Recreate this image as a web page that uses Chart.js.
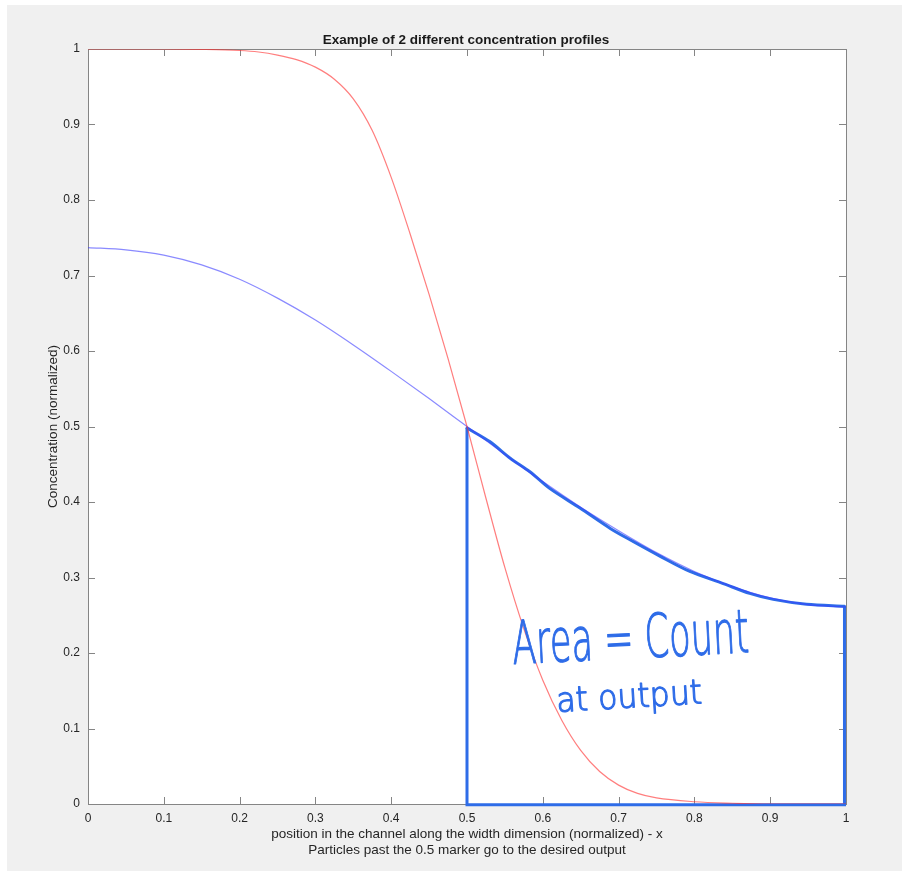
<!DOCTYPE html>
<html>
<head>
<meta charset="utf-8">
<script src="https://cdn.jsdelivr.net/npm/chart.js@4.4.1/dist/chart.umd.min.js"></script>
<style>
  html, body { margin: 0; padding: 0; background: #fff; }
  #fig { position: absolute; left: 7px; top: 5px; width: 895px; height: 866px; background: #f0f0f0; }
  #wrap { position: absolute; left: 0; top: 0; width: 902px; height: 871px; }
</style>
</head>
<body>
<div id="fig"></div>
<div id="wrap"><canvas id="lineChart" width="902" height="871"></canvas></div>
<script>
// tick positions (both axes)
var tickValues = [0, 0.1, 0.2, 0.3, 0.4, 0.5, 0.6, 0.7, 0.8, 0.9, 1];

// red profile (steep)
var redX = [0, 0.05, 0.1, 0.15, 0.2, 0.225, 0.25, 0.275, 0.3, 0.325, 0.35, 0.375, 0.4, 0.425, 0.45, 0.475, 0.5,
            0.525, 0.55, 0.575, 0.6, 0.625, 0.65, 0.675, 0.7, 0.725, 0.75, 0.8, 0.85, 0.9, 0.95, 1];
var redY = [1, 1, 1, 0.9995, 0.998, 0.996, 0.992, 0.986, 0.976, 0.960, 0.934, 0.892, 0.830, 0.755, 0.675, 0.590, 0.5,
            0.405, 0.313, 0.232, 0.164, 0.111, 0.071, 0.043, 0.025, 0.014, 0.008, 0.003, 0.001, 0, 0, 0];

// blue profile (shallow)
var blueX = [0, 0.05, 0.1, 0.15, 0.2, 0.25, 0.3, 0.35, 0.4, 0.45, 0.5,
             0.55, 0.6, 0.65, 0.7, 0.75, 0.8, 0.85, 0.9, 0.95, 1];
var blueY = [0.737, 0.734, 0.727, 0.714, 0.695, 0.670, 0.641, 0.608, 0.573, 0.537, 0.5,
             0.463, 0.427, 0.393, 0.362, 0.333, 0.308, 0.288, 0.273, 0.264, 0.261];

// hand drawn pen trace over the blue curve
var penX = [0.5, 0.53, 0.557, 0.583, 0.609, 0.649, 0.689, 0.715, 0.755, 0.794, 0.838, 0.873, 0.904, 0.948, 0.998];
var penY = [0.498, 0.480, 0.458, 0.440, 0.418, 0.392, 0.365, 0.350, 0.328, 0.308, 0.292, 0.279, 0.271, 0.2645, 0.262];

// hand drawn box edges
var boxX = [0.5, 0.5, 0.998, 0.998];
var boxY = [0.498, -0.001, -0.001, 0.262];

function pts(xs, ys) {
    return xs.map(function (x, i) { return { x: x, y: ys[i] }; });
}

var FONT = '"Liberation Sans", Arial, Helvetica, sans-serif';
var PEN = 'rgb(46, 108, 232)';

function penText(c, text, x, y, size, width, angle) {
    c.save();
    c.fillStyle = PEN;
    c.strokeStyle = PEN;
    c.lineWidth = 1.2;
    c.lineJoin = 'round';
    c.textAlign = 'left';
    c.textBaseline = 'alphabetic';
    c.font = '200 ' + size + 'px "DejaVu Sans", sans-serif';
    var w = c.measureText(text).width;
    c.translate(x, y);
    c.rotate(angle);
    c.scale(width / w, 1);
    c.fillText(text, 0, 0);
    c.strokeText(text, 0, 0);
    c.restore();
}

var matlabAxes = {
    id: 'matlabAxes',
    beforeDraw: function (chart) {
        var c = chart.ctx, a = chart.chartArea;
        c.save();
        c.fillStyle = '#ffffff';
        c.fillRect(a.left, a.top, a.right - a.left, a.bottom - a.top);
        c.restore();
    },
    beforeDatasetsDraw: function (chart) {
        var c = chart.ctx, a = chart.chartArea;
        var xs = chart.scales.x, ys = chart.scales.y;
        var tl = 7;
        c.save();
        c.strokeStyle = '#858585';
        c.lineWidth = 1;
        c.beginPath();
        tickValues.forEach(function (v) {
            var px = Math.round(xs.getPixelForValue(v)) + 0.5;
            c.moveTo(px, a.bottom); c.lineTo(px, a.bottom - tl);
            c.moveTo(px, a.top); c.lineTo(px, a.top + tl);
            var py = Math.round(ys.getPixelForValue(v)) + 0.5;
            c.moveTo(a.left, py); c.lineTo(a.left + tl, py);
            c.moveTo(a.right, py); c.lineTo(a.right - tl, py);
        });
        c.stroke();
        c.strokeRect(Math.round(a.left) + 0.5, Math.round(a.top) + 0.5,
                     Math.round(a.right - a.left), Math.round(a.bottom - a.top));
        c.restore();
    },
    afterDraw: function (chart) {
        var c = chart.ctx, a = chart.chartArea;
        var cx = (a.left + a.right) / 2;
        c.save();
        c.fillStyle = '#1a1a1a';
        c.textAlign = 'center';
        c.textBaseline = 'middle';
        c.font = 'bold 13.5px ' + FONT;
        c.fillText('Example of 2 different concentration profiles', cx - 1, 40);
        c.fillStyle = '#262626';
        c.font = '13.5px ' + FONT;
        c.fillText('position in the channel along the width dimension (normalized) - x', cx, 834);
        c.fillText('Particles past the 0.5 marker go to the desired output', cx, 850);
        c.translate(53, (a.top + a.bottom) / 2);
        c.rotate(-Math.PI / 2);
        c.fillText('Concentration (normalized)', 0, 0);
        c.restore();

        // handwritten note
        penText(c, 'Area = Count', 513, 664, 60, 237, -0.05);
        penText(c, 'at output', 557, 712, 34, 146, -0.06);
    }
};

var ctx = document.getElementById('lineChart');
var lineChart = new Chart(ctx, {
    type: 'line',
    data: {
        datasets: [
            {
                label: 'red',
                data: pts(redX, redY),
                borderColor: 'rgba(255, 40, 40, 0.6)',
                borderWidth: 1.2,
                pointRadius: 0,
                cubicInterpolationMode: 'monotone',
                fill: false
            },
            {
                label: 'blue',
                data: pts(blueX, blueY),
                borderColor: 'rgba(60, 60, 255, 0.6)',
                borderWidth: 1.2,
                pointRadius: 0,
                cubicInterpolationMode: 'monotone',
                fill: false
            },
            {
                label: 'pen',
                data: pts(penX, penY),
                borderColor: PEN,
                borderWidth: 3,
                pointRadius: 0,
                tension: 0.3,
                borderCapStyle: 'round',
                fill: false,
                clip: 6
            },
            {
                label: 'box',
                data: pts(boxX, boxY),
                borderColor: PEN,
                borderWidth: 3,
                pointRadius: 0,
                tension: 0,
                borderJoinStyle: 'miter',
                fill: false,
                clip: 6
            }
        ]
    },
    options: {
        responsive: false,
        animation: false,
        layout: { padding: { left: 0, right: 56, top: 49, bottom: 0 } },
        plugins: {
            legend: { display: false },
            tooltip: { enabled: false }
        },
        scales: {
            x: {
                type: 'linear',
                min: 0,
                max: 1,
                grid: { display: false, drawTicks: false },
                border: { display: false },
                ticks: {
                    padding: 7,
                    color: '#262626',
                    font: { size: 12, family: FONT },
                    maxRotation: 0,
                    autoSkip: false,
                    callback: function (v) { return String(v); }
                },
                afterBuildTicks: function (s) { s.ticks = tickValues.map(function (v) { return { value: v }; }); },
                afterFit: function (s) { s.height = 67; }
            },
            y: {
                type: 'linear',
                min: 0,
                max: 1,
                grid: { display: false, drawTicks: false },
                border: { display: false },
                ticks: {
                    padding: 8,
                    color: '#262626',
                    font: { size: 12, family: FONT },
                    autoSkip: false,
                    callback: function (v) { return String(v); }
                },
                afterBuildTicks: function (s) { s.ticks = tickValues.map(function (v) { return { value: v }; }); },
                afterFit: function (s) { s.width = 88; }
            }
        }
    },
    plugins: [matlabAxes]
});
</script>
</body>
</html>
